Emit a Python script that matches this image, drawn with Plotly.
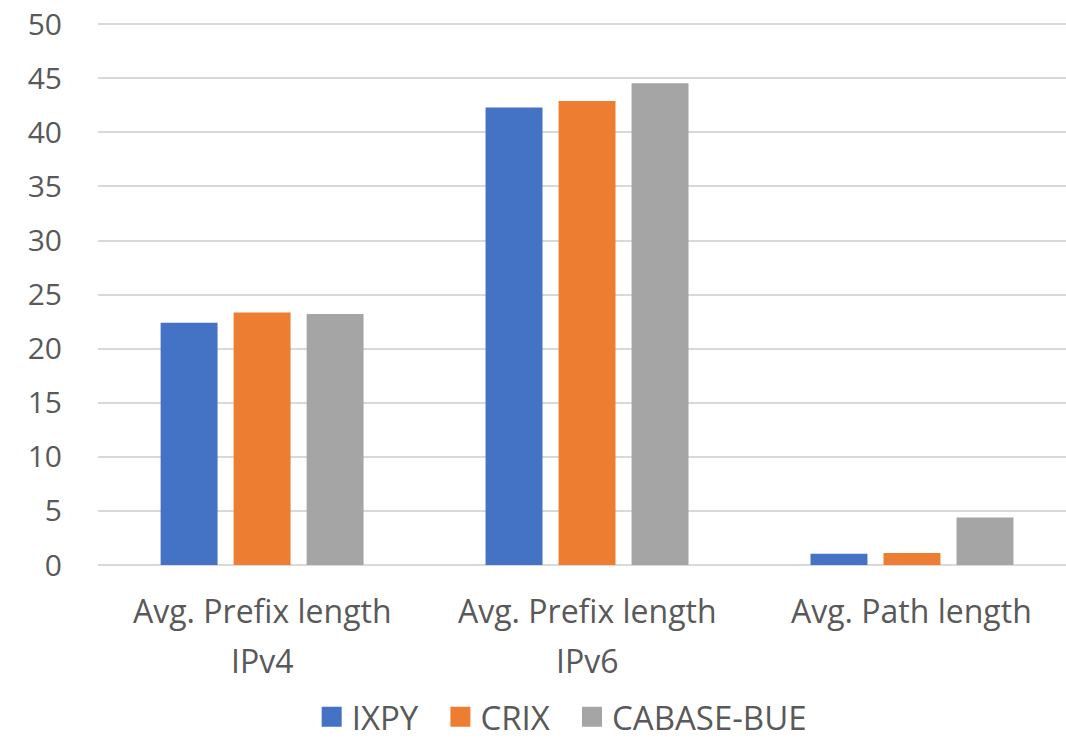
import plotly.graph_objects as go

categories = ["Avg. Prefix length IPv4", "Avg. Prefix length IPv6", "Avg. Path length"]
category_lines = [["Avg. Prefix length", "IPv4"], ["Avg. Prefix length", "IPv6"], ["Avg. Path length"]]
series_names = ["IXPY", "CRIX", "CABASE-BUE"]
ixpy = [22.4, 42.3, 1.05]
crix = [23.35, 42.9, 1.1]
cabase = [23.2, 44.55, 4.4]
colors = ["#4472C4", "#ED7D31", "#A5A5A5"]
y_ticks = [0, 5, 10, 15, 20, 25, 30, 35, 40, 45, 50]

TEXT = "#595959"
FONT = "Open Sans"
PAD = "\u00a0\u00a0"

fig = go.Figure()
for name, vals, col in zip(series_names, [ixpy, crix, cabase], colors):
    fig.add_trace(go.Bar(name=name, x=categories, y=vals, marker_color=col,
                         marker_line_width=0, showlegend=False))
# legend proxies with larger square symbols
for k, (name, col) in enumerate(zip(series_names, colors)):
    label = name + (PAD if k < len(series_names) - 1 else "")
    fig.add_trace(go.Scatter(name=label, x=[None], y=[None], mode="markers",
                             marker=dict(symbol="square", size=16, color=col,
                                         line=dict(color=col, width=4))))

# category labels with custom line spacing
for cat, lines in zip(categories, category_lines):
    for i, line in enumerate(lines):
        fig.add_annotation(x=cat, y=0, xref="x", yref="paper", text=line,
                           showarrow=False, yanchor="middle", xanchor="center",
                           yshift=-45 - 50 * i,
                           font=dict(family=FONT, size=32, color=TEXT))

fig.update_layout(
    width=1066, height=738,
    margin=dict(l=98, r=0, t=21, b=173, autoexpand=False),
    paper_bgcolor="white", plot_bgcolor="white",
    barmode="group", bargap=0.326, bargroupgap=0.22,
    font=dict(family=FONT, size=30, color=TEXT),
    legend=dict(orientation="h", x=0.479, xanchor="center", y=-0.279, yanchor="middle",
                font=dict(size=33), traceorder="normal", itemwidth=30),
    showlegend=True,
)
fig.update_xaxes(range=[-0.505, 2.474], showgrid=False, showline=False, automargin=False,
                 ticks="", showticklabels=False)
fig.update_yaxes(range=[0, 50.3], tickvals=y_ticks, showgrid=True, gridcolor="#D9D9D9",
                 gridwidth=1.5, zeroline=True, zerolinecolor="#D9D9D9", zerolinewidth=1.5,
                 showline=False, ticks="", ticklabelstandoff=35, automargin=False,
                 tickfont=dict(size=30))

fig.write_html("out.html", config={"displayModeBar": False},
               post_script="document.body.style.margin='0';")
